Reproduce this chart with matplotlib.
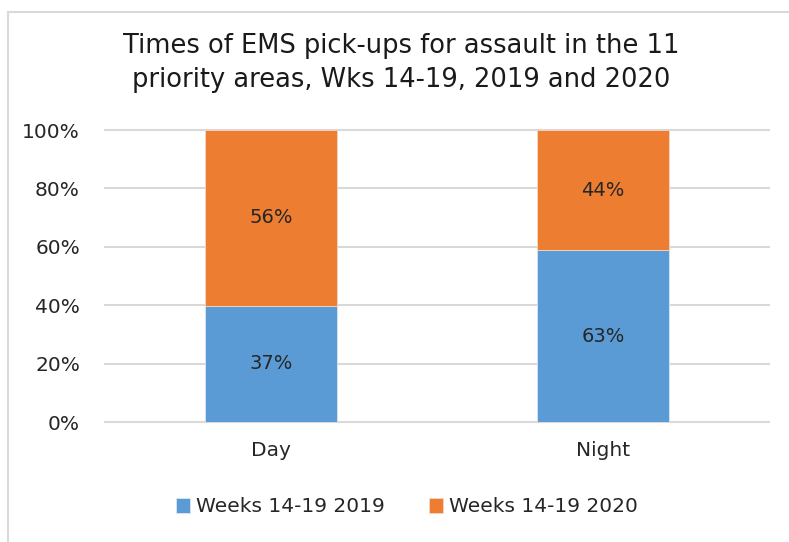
import numpy as np
import matplotlib.pyplot as plt
from matplotlib.patches import Rectangle

# Data: share of each year's pick-ups by time of day (%)
categories = ["Day", "Night"]
series_names = ["Weeks 14-19 2019", "Weeks 14-19 2020"]
pct_2019 = np.array([37, 63])
pct_2020 = np.array([56, 44])
colors = ["#5B9BD5", "#ED7D31"]

W, H = 789, 542
fig = plt.figure(figsize=(W / 100, H / 100), dpi=100)
plt.rcParams['font.family'] = ['DejaVu Sans']

# chart border (Excel chart area)
fig.patches.append(Rectangle((8 / W, -0.1), 1.2, (H - 12) / H + 0.1,
                             transform=fig.transFigure, fill=False,
                             edgecolor="#d9d9d9", linewidth=1.5))

ax = fig.add_axes([105 / W, (H - 422) / H, (769 - 105) / W, (422 - 130) / H])

# 100% stacked: normalise each category
total = pct_2019 + pct_2020
share_2019 = pct_2019 / total * 100
share_2020 = pct_2020 / total * 100

x = np.arange(len(categories))
ax.bar(x, share_2019, width=0.4, color=colors[0], label=series_names[0],
       edgecolor="#dce6f2", linewidth=0.6, zorder=3)
ax.bar(x, share_2020, width=0.4, bottom=share_2019, color=colors[1],
       label=series_names[1], edgecolor="#f4d7c4", linewidth=0.6, zorder=3)

for xi, s1, s2, v1, v2 in zip(x, share_2019, share_2020, pct_2019, pct_2020):
    ax.text(xi, s1 / 2, "{}%".format(v1), ha="center", va="center",
            fontsize=14, color="#262626", zorder=4)
    ax.text(xi, s1 + s2 / 2, "{}%".format(v2), ha="center", va="center",
            fontsize=14, color="#262626", zorder=4)

ax.set_xlim(-0.5, 1.5)
ax.set_ylim(0, 100)
ax.set_yticks(np.arange(0, 101, 20))
ax.set_yticklabels(["{}%".format(v) for v in range(0, 101, 20)])
ax.set_xticks(x)
ax.set_xticklabels(categories)
ax.tick_params(axis="both", length=0, labelsize=14.5, labelcolor="#262626")
ax.tick_params(axis="y", pad=18)
ax.tick_params(axis="x", pad=14)
ax.grid(axis="y", color="#d9d9d9", linewidth=1.5, zorder=0)
for line in ax.get_ygridlines():
    line.set_clip_on(False)
for s in ax.spines.values():
    s.set_visible(False)

fig.text(401 / W, 1 - 33 / H,
         "Times of EMS pick-ups for assault in the 11\npriority areas, Wks 14-19, 2019 and 2020",
         ha="center", va="top", fontsize=18.5, color="#1a1a1a", linespacing=1.4)

fig.legend(loc="center", bbox_to_anchor=(407 / W, 1 - 507 / H), ncol=2,
           frameon=False, fontsize=14.5, handlelength=0.7, handleheight=0.7,
           handletextpad=0.3, columnspacing=2.2, labelcolor="#262626")

fig.savefig("out.png", dpi=100)
